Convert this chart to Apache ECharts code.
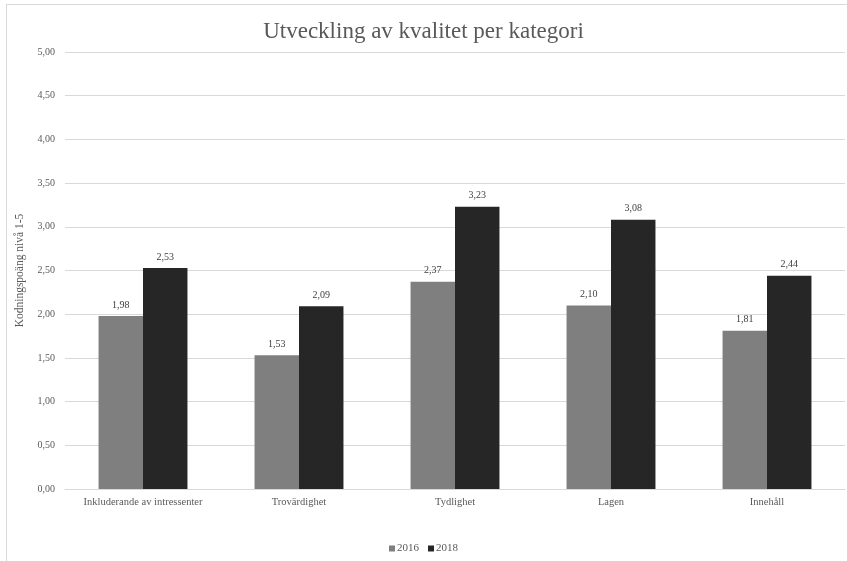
<!DOCTYPE html>
<html>
<head>
<meta charset="utf-8">
<script src="https://cdn.jsdelivr.net/npm/echarts@6/dist/echarts.min.js"></script>
<style>
  html, body { margin: 0; padding: 0; background: #ffffff; }
  #frame { position: absolute; left: 6px; top: 4px; width: 900px; height: 620px;
           border: 1px solid #d9d9d9; box-sizing: border-box; }
  #chart { position: absolute; left: 0; top: 0; width: 847px; height: 561px; }
</style>
</head>
<body>
<div id="frame"></div>
<div id="chart"></div>
<script>
const categories = ['Inkluderande av intressenter', 'Trovärdighet', 'Tydlighet', 'Lagen', 'Innehåll'];
const values2016 = [1.98, 1.53, 2.37, 2.10, 1.81];
const values2018 = [2.53, 2.09, 3.23, 3.08, 2.44];
const seriesNames = ['2016', '2018'];

const serif = '"Liberation Serif", "DejaVu Serif", serif';
const fmt = v => Number(v).toFixed(2).replace('.', ',');

const chart = echarts.init(document.getElementById('chart'));
chart.setOption({
  animation: false,
  backgroundColor: 'transparent',
  title: {
    text: 'Utveckling av kvalitet per kategori',
    left: 'center',
    top: 15,
    textStyle: { fontFamily: serif, fontSize: 23, fontWeight: 'normal', color: '#595959' }
  },
  legend: {
    data: seriesNames,
    bottom: 2,
    left: 'center',
    icon: 'rect',
    itemWidth: 6,
    itemHeight: 6,
    itemGap: 9,
    textStyle: { fontFamily: serif, fontSize: 11, color: '#595959', padding: [0, 0, 0, -3] }
  },
  grid: { left: 65, right: 2, top: 52, bottom: 72, containLabel: false },
  xAxis: {
    type: 'category',
    data: categories,
    axisLine: { lineStyle: { color: '#d9d9d9' } },
    axisTick: { show: false },
    axisLabel: { fontFamily: serif, fontSize: 10.5, color: '#595959', margin: 8 }
  },
  yAxis: {
    type: 'value',
    min: 0,
    max: 5,
    interval: 0.5,
    name: 'Kodningspoäng nivå 1-5',
    nameLocation: 'middle',
    nameGap: 39,
    nameTextStyle: { fontFamily: serif, fontSize: 11.5, color: '#595959' },
    axisLine: { show: false },
    axisTick: { show: false },
    axisLabel: { fontFamily: serif, fontSize: 10, color: '#595959', formatter: fmt, margin: 10 },
    splitLine: { lineStyle: { color: '#d9d9d9' } }
  },
  series: [
    {
      name: seriesNames[0],
      type: 'bar',
      data: values2016,
      barGap: '0%',
      barCategoryGap: '43%',
      itemStyle: { color: '#7f7f7f' },
      label: { show: true, position: 'top', formatter: p => fmt(p.value),
               fontFamily: serif, fontSize: 10, color: '#404040', distance: 6 }
    },
    {
      name: seriesNames[1],
      type: 'bar',
      data: values2018,
      barGap: '0%',
      barCategoryGap: '43%',
      itemStyle: { color: '#262626' },
      label: { show: true, position: 'top', formatter: p => fmt(p.value),
               fontFamily: serif, fontSize: 10, color: '#404040', distance: 6 }
    }
  ]
});
</script>
</body>
</html>
